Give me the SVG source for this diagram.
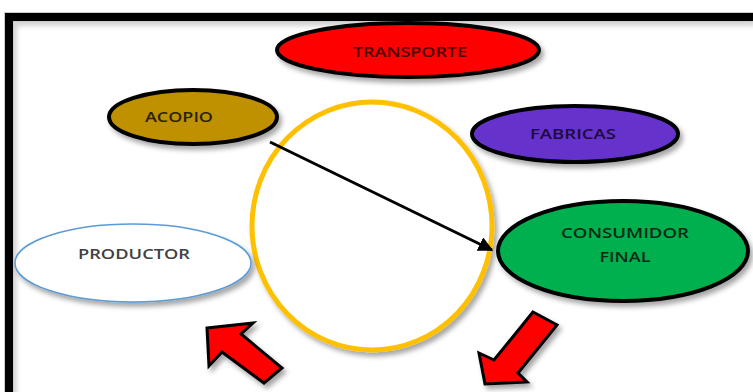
<svg xmlns="http://www.w3.org/2000/svg" width="753" height="392" viewBox="0 0 753 392">
<defs>
<filter id="sh" x="-20%" y="-20%" width="140%" height="150%">
<feDropShadow dx="3" dy="4" stdDeviation="2.5" flood-color="#000" flood-opacity="0.35"/>
</filter>
<marker id="ah" viewBox="0 0 10 10" refX="9" refY="5" markerWidth="5" markerHeight="5" orient="auto" markerUnits="strokeWidth">
<path d="M0,0 L10,5 L0,10 z" fill="#000"/>
</marker>
<style>
.lbl{font-family:"Open Sans","Liberation Sans",sans-serif;font-size:15px;font-weight:600;text-anchor:middle}
.node{stroke:#000;stroke-width:4}
.big{fill:#FF0000;stroke:#000;stroke-width:3;stroke-linejoin:miter}
</style>
</defs>
<rect width="753" height="392" fill="#fff"/>
<path d="M9,392 V17 H753" fill="none" stroke="#9a9a9a" stroke-width="10" filter="url(#sh)" opacity="0.5"/>
<path d="M9,392 V17 H753" fill="none" stroke="#000" stroke-width="8"/>

<g id="circle">
<ellipse cx="372" cy="226" rx="120" ry="124" fill="#fff" stroke="#FFC000" stroke-width="5" filter="url(#sh)"/>
</g>
<g id="transporte">
<ellipse cx="408" cy="50" rx="131" ry="27" fill="#FF0000" class="node" filter="url(#sh)"/>
<text class="lbl" x="410" y="57" fill="#4a0000" textLength="114" lengthAdjust="spacingAndGlyphs">TRANSPORTE</text>
</g>
<g id="acopio">
<ellipse cx="193" cy="117" rx="84" ry="27" fill="#BF9000" class="node" filter="url(#sh)"/>
<text class="lbl" x="179" y="122" fill="#2a2200" textLength="68" lengthAdjust="spacingAndGlyphs">ACOPIO</text>
</g>
<g id="fabricas">
<ellipse cx="575" cy="134" rx="103" ry="28" fill="#6633CC" class="node" filter="url(#sh)"/>
<text class="lbl" x="573" y="139" fill="#1e0a3c" textLength="86" lengthAdjust="spacingAndGlyphs">FABRICAS</text>
</g>
<g id="productor">
<ellipse cx="133" cy="263" rx="118" ry="39" fill="#fff" stroke="#5B9BD5" stroke-width="1.5" filter="url(#sh)"/>
<text class="lbl" x="134" y="259" fill="#404040" textLength="112" lengthAdjust="spacingAndGlyphs">PRODUCTOR</text>
</g>
<g id="consumidor">
<ellipse cx="623" cy="251" rx="125" ry="50" fill="#00B050" class="node" filter="url(#sh)"/>
<text class="lbl" x="625" y="238" fill="#0a2a14" textLength="128" lengthAdjust="spacingAndGlyphs">CONSUMIDOR</text>
<text class="lbl" x="625" y="262" fill="#0a2a14" textLength="51" lengthAdjust="spacingAndGlyphs">FINAL</text>
</g>
<g id="connectors">
<line x1="270" y1="142" x2="492" y2="250" stroke="#000" stroke-width="3" marker-end="url(#ah)"/>
</g>
<g id="arrow-left">
<polygon class="big" filter="url(#sh)" points="207,328 253,323 241,334 282,368 264,383 222,352 209,366"/>
</g>
<g id="arrow-right">
<polygon class="big" filter="url(#sh)" points="533,312 557,325 518,373 527,382 485,384 479,353 494,360"/>
</g>
</svg>
